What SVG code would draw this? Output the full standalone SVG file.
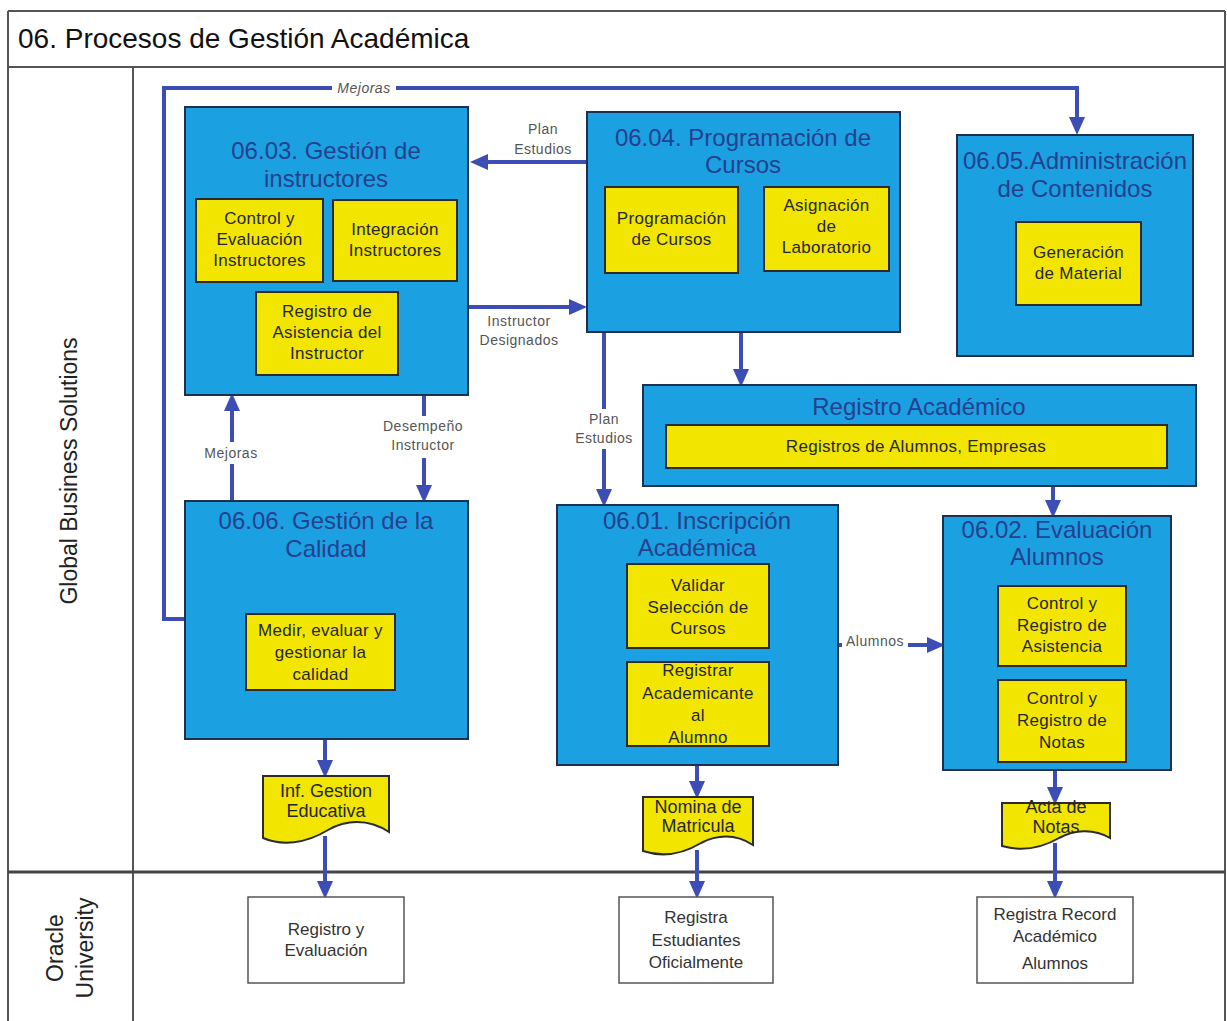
<svg xmlns="http://www.w3.org/2000/svg" width="1227" height="1021" viewBox="0 0 1227 1021">
  <style>
    text { font-family: "Liberation Sans", Arial, sans-serif; }
    .frame { fill: none; stroke: #555; stroke-width: 2; }
    .lane-title { font-size: 23px; fill: #222; text-anchor: middle; }
    .proc { fill: #1ba1e2; stroke: #1d3050; stroke-width: 2; }
    .proc-title { font-size: 24px; fill: #24408e; text-anchor: middle; }
    .task { fill: #f2e600; stroke: #2b2b2b; stroke-width: 2; }
    .task-text { font-size: 17px; letter-spacing: 0.3px; fill: #262626; text-anchor: middle; }
    .doc { fill: #f2e600; stroke: #2b2b2b; stroke-width: 2; }
    .doc-text { font-size: 18px; fill: #262626; text-anchor: middle; }
    .out { fill: #fff; stroke: #555; stroke-width: 1.5; }
    .out-text { font-size: 17px; fill: #333; text-anchor: middle; }
    .flow { fill: none; stroke: #3c4db5; stroke-width: 4; marker-end: url(#arrow); }
    .flow-label { font-size: 14px; letter-spacing: 0.5px; fill: #555; text-anchor: middle; }
    .label-bg { fill: #fff; }
  </style>
  <defs>
    <marker id="arrow" markerUnits="userSpaceOnUse" markerWidth="18" markerHeight="16" refX="6" refY="8" orient="auto">
      <path d="M0,0 L18,8 L0,16 Z" fill="#3c4db5"/>
    </marker>
  </defs>

  <rect width="1227" height="1021" fill="#fff"/>

  <!-- swimlane frame -->
  <g id="frame">
    <line class="frame" x1="8" y1="11" x2="1225" y2="11"/>
    <line class="frame" x1="8" y1="11" x2="8" y2="1021"/>
    <line class="frame" x1="1225" y1="11" x2="1225" y2="1021"/>
    <line class="frame" x1="8" y1="67" x2="1225" y2="67"/>
    <line class="frame" x1="133" y1="67" x2="133" y2="1021"/>
    <line x1="8" y1="872" x2="1225" y2="872" stroke="#444" stroke-width="3"/>
    <text x="18" y="48" font-size="28" fill="#111">06. Procesos de Gestión Académica</text>
    <text class="lane-title" transform="translate(77,471) rotate(-90)">Global Business Solutions</text>
    <text class="lane-title" transform="translate(63,948) rotate(-90)">Oracle</text>
    <text class="lane-title" transform="translate(93,948) rotate(-90)">University</text>
  </g>

  <!-- connectors -->
  <g id="connectors">
    <path class="flow" d="M185,619 H164 V88 H1077 V123"/>
    <rect class="label-bg" x="332" y="80" width="64" height="16"/>
    <text class="flow-label" x="364" y="93" font-style="italic">Mejoras</text>

    <path class="flow" d="M587,162 H482"/>
    <text class="flow-label" x="543" y="134">Plan</text>
    <text class="flow-label" x="543" y="154">Estudios</text>

    <path class="flow" d="M469,307 H575"/>
    <text class="flow-label" x="519" y="326">Instructor</text>
    <text class="flow-label" x="519" y="345">Designados</text>

    <path class="flow" d="M232,501 V405"/>
    <rect class="label-bg" x="194" y="442" width="76" height="22"/>
    <text class="flow-label" x="231" y="458">Mejoras</text>

    <path class="flow" d="M424,395 V491"/>
    <rect class="label-bg" x="370" y="416" width="108" height="42"/>
    <text class="flow-label" x="423" y="431">Desempeño</text>
    <text class="flow-label" x="423" y="450">Instructor</text>

    <path class="flow" d="M741,332 V375"/>

    <path class="flow" d="M604,332 V495"/>
    <rect class="label-bg" x="568" y="409" width="72" height="40"/>
    <text class="flow-label" x="604" y="424">Plan</text>
    <text class="flow-label" x="604" y="443">Estudios</text>

    <path class="flow" d="M838,645 H933"/>
    <rect class="label-bg" x="842" y="634" width="66" height="16"/>
    <text class="flow-label" x="875" y="646">Alumnos</text>

    <path class="flow" d="M1053,486 V506"/>
    <path class="flow" d="M325,739 V766"/>
    <path class="flow" d="M325,836 V887"/>
    <path class="flow" d="M697,765 V787"/>
    <path class="flow" d="M697,850 V887"/>
    <path class="flow" d="M1055,770 V793"/>
    <path class="flow" d="M1055,843 V887"/>
  </g>

  <!-- 06.03 Gestión de instructores -->
  <g id="gestion-instructores">
    <rect class="proc" x="185" y="107" width="283" height="288"/>
    <text class="proc-title" x="326" y="159">06.03. Gestión de</text>
    <text class="proc-title" x="326" y="187">instructores</text>
    <rect class="task" x="196" y="199" width="127" height="83"/>
    <text class="task-text" x="259.5" y="224">Control y</text>
    <text class="task-text" x="259.5" y="245">Evaluación</text>
    <text class="task-text" x="259.5" y="266">Instructores</text>
    <rect class="task" x="333" y="200" width="124" height="81"/>
    <text class="task-text" x="395" y="235">Integración</text>
    <text class="task-text" x="395" y="256">Instructores</text>
    <rect class="task" x="256" y="292" width="142" height="83"/>
    <text class="task-text" x="327" y="317">Registro de</text>
    <text class="task-text" x="327" y="338">Asistencia del</text>
    <text class="task-text" x="327" y="359">Instructor</text>
  </g>

  <!-- 06.04 Programación de Cursos -->
  <g id="programacion-cursos">
    <rect class="proc" x="587" y="112" width="313" height="220"/>
    <text class="proc-title" x="743" y="146">06.04. Programación de</text>
    <text class="proc-title" x="743" y="173">Cursos</text>
    <rect class="task" x="605" y="187" width="133" height="86"/>
    <text class="task-text" x="671.5" y="224">Programación</text>
    <text class="task-text" x="671.5" y="245">de Cursos</text>
    <rect class="task" x="764" y="187" width="125" height="84"/>
    <text class="task-text" x="826.5" y="211">Asignación</text>
    <text class="task-text" x="826.5" y="232">de</text>
    <text class="task-text" x="826.5" y="253">Laboratorio</text>
  </g>

  <!-- 06.05 Administración de Contenidos -->
  <g id="administracion-contenidos">
    <rect class="proc" x="957" y="135" width="236" height="221"/>
    <text class="proc-title" x="1075" y="169">06.05.Administración</text>
    <text class="proc-title" x="1075" y="197">de Contenidos</text>
    <rect class="task" x="1016" y="222" width="125" height="83"/>
    <text class="task-text" x="1078.5" y="258">Generación</text>
    <text class="task-text" x="1078.5" y="279">de Material</text>
  </g>

  <!-- Registro Académico -->
  <g id="registro-academico">
    <rect class="proc" x="643" y="385" width="553" height="101"/>
    <text class="proc-title" x="919" y="415">Registro Académico</text>
    <rect class="task" x="666" y="425" width="501" height="43"/>
    <text class="task-text" x="916" y="452">Registros de Alumnos, Empresas</text>
  </g>

  <!-- 06.06 Gestión de la Calidad -->
  <g id="gestion-calidad">
    <rect class="proc" x="185" y="501" width="283" height="238"/>
    <text class="proc-title" x="326" y="529">06.06. Gestión de la</text>
    <text class="proc-title" x="326" y="557">Calidad</text>
    <rect class="task" x="246" y="614" width="149" height="76"/>
    <text class="task-text" x="320.5" y="636">Medir, evaluar y</text>
    <text class="task-text" x="320.5" y="658">gestionar la</text>
    <text class="task-text" x="320.5" y="680">calidad</text>
  </g>

  <!-- 06.01 Inscripción Académica -->
  <g id="inscripcion-academica">
    <rect class="proc" x="557" y="505" width="281" height="260"/>
    <text class="proc-title" x="697" y="529">06.01. Inscripción</text>
    <text class="proc-title" x="697" y="556">Académica</text>
    <rect class="task" x="627" y="564" width="142" height="84"/>
    <text class="task-text" x="698" y="591">Validar</text>
    <text class="task-text" x="698" y="613">Selección de</text>
    <text class="task-text" x="698" y="634">Cursos</text>
    <rect class="task" x="627" y="662" width="142" height="84"/>
    <text class="task-text" x="698" y="676">Registrar</text>
    <text class="task-text" x="698" y="699">Academicante</text>
    <text class="task-text" x="698" y="721">al</text>
    <text class="task-text" x="698" y="743">Alumno</text>
  </g>

  <!-- 06.02 Evaluación Alumnos -->
  <g id="evaluacion-alumnos">
    <rect class="proc" x="943" y="516" width="228" height="254"/>
    <text class="proc-title" x="1057" y="538">06.02. Evaluación</text>
    <text class="proc-title" x="1057" y="565">Alumnos</text>
    <rect class="task" x="998" y="586" width="128" height="80"/>
    <text class="task-text" x="1062" y="609">Control y</text>
    <text class="task-text" x="1062" y="631">Registro de</text>
    <text class="task-text" x="1062" y="652">Asistencia</text>
    <rect class="task" x="998" y="680" width="128" height="82"/>
    <text class="task-text" x="1062" y="704">Control y</text>
    <text class="task-text" x="1062" y="726">Registro de</text>
    <text class="task-text" x="1062" y="748">Notas</text>
  </g>

  <!-- output documents -->
  <g id="doc-inf-gestion">
    <path class="doc" d="M263,776 H389 V832 C368,818 345,820 328,830 C305,844 282,846 263,838 Z"/>
    <text class="doc-text" x="326" y="797">Inf. Gestion</text>
    <text class="doc-text" x="326" y="817">Educativa</text>
  </g>
  <g id="doc-nomina">
    <path class="doc" d="M643,797 H753 V845 C735,833 716,835 701,843 C681,855 661,857 643,851 Z"/>
    <text class="doc-text" x="698" y="813">Nomina de</text>
    <text class="doc-text" x="698" y="832">Matricula</text>
  </g>
  <g id="doc-acta">
    <path class="doc" d="M1002,803 H1110 V838 C1093,828 1074,830 1059,838 C1040,849 1020,851 1002,846 Z"/>
    <text class="doc-text" x="1056" y="813">Acta de</text>
    <text class="doc-text" x="1056" y="833">Notas</text>
  </g>

  <!-- Oracle University activities -->
  <g id="registro-evaluacion">
    <rect class="out" x="248" y="897" width="156" height="86"/>
    <text class="out-text" x="326" y="935">Registro y</text>
    <text class="out-text" x="326" y="956">Evaluación</text>
  </g>
  <g id="registra-estudiantes">
    <rect class="out" x="619" y="897" width="154" height="86"/>
    <text class="out-text" x="696" y="923">Registra</text>
    <text class="out-text" x="696" y="946">Estudiantes</text>
    <text class="out-text" x="696" y="968">Oficialmente</text>
  </g>
  <g id="registra-record">
    <rect class="out" x="977" y="897" width="156" height="86"/>
    <text class="out-text" x="1055" y="920">Registra Record</text>
    <text class="out-text" x="1055" y="942">Académico</text>
    <text class="out-text" x="1055" y="969">Alumnos</text>
  </g>
</svg>
